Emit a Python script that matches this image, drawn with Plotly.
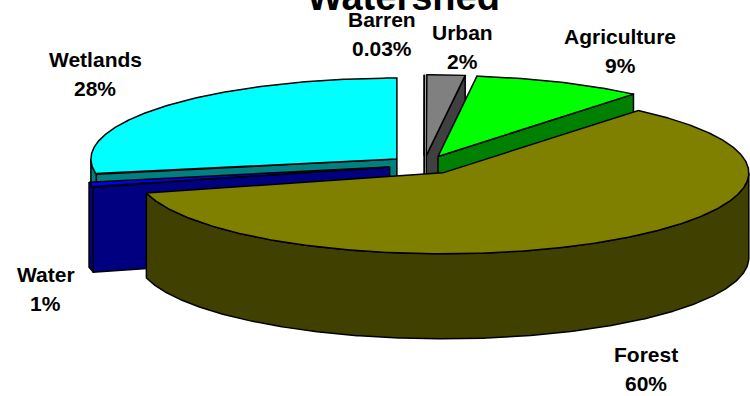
import numpy as np
import plotly.graph_objects as go

# ---------------- data ----------------
categories = ["Barren", "Urban", "Agriculture", "Forest", "Water", "Wetlands"]
values = [0.03, 2, 9, 60, 1, 28]
title_text = "Watershed"

# ---------------- style ----------------
top_colors = ["#C0C0C0", "#808080", "#00FF00", "#808000", "#0000FF", "#00FFFF"]
side_colors = ["#606060", "#404040", "#008000", "#404000", "#000080", "#008080"]
label_offsets = [(-42, -41), (16, -28), (60, -31), (39, 128), (-45, 104), (-66, -33)]

W, H = 750, 396
CX, CY = 424, 165          # pie centre (px)
RX, RY = 306, 81           # ellipse radii (px)
DEPTH = 85                 # pie thickness (px)
EXPLODE = 0.115            # explosion fraction
FONT = "Arial, Liberation Sans, sans-serif"

total = float(sum(values))
fracs = [v / total for v in values]
starts = np.cumsum([0] + fracs[:-1]) * 360.0
ends = np.cumsum(fracs) * 360.0


def rim(theta_deg, ox, oy, dz=0.0):
    t = np.radians(theta_deg)
    return CX + ox + RX * np.sin(t), CY + oy - RY * np.cos(t) + dz


def arc(t1, t2, ox, oy, dz=0.0):
    n = max(2, int(abs(t2 - t1) * 2) + 2)
    ts = np.linspace(t1, t2, n)
    xs, ys = rim(ts, ox, oy, dz)
    return list(xs), list(ys)


fig = go.Figure()


def poly(xs, ys, color):
    fig.add_trace(go.Scatter(
        x=xs + [xs[0]], y=ys + [ys[0]], mode="lines", fill="toself",
        fillcolor=color, line=dict(color="black", width=1.5),
        hoverinfo="skip", showlegend=False))


slices = []
for i in range(len(values)):
    t1, t2 = starts[i], ends[i]
    tm = np.radians((t1 + t2) / 2)
    ox = EXPLODE * RX * np.sin(tm)
    oy = -EXPLODE * RY * np.cos(tm)
    slices.append((-np.cos(tm), i, t1, t2, ox, oy))

# painter's order: back slices first
for _, i, t1, t2, ox, oy in sorted(slices):
    ax, ay = CX + ox, CY + oy
    # radial faces
    if np.sin(np.radians(t1)) < -1e-6:
        px, py = rim(t1, ox, oy)
        poly([ax, px, px, ax], [ay, py, py + DEPTH, ay + DEPTH], side_colors[i])
    if np.sin(np.radians(t2)) > 1e-6:
        px, py = rim(t2, ox, oy)
        poly([ax, px, px, ax], [ay, py, py + DEPTH, ay + DEPTH], side_colors[i])
    # outer wall (front half 90..270)
    a, b = max(t1, 90.0), min(t2, 270.0)
    if b > a:
        tx, ty = arc(a, b, ox, oy)
        bx, by = arc(a, b, ox, oy, DEPTH)
        poly(tx + bx[::-1], ty + by[::-1], side_colors[i])
    # top face
    tx, ty = arc(t1, t2, ox, oy)
    poly([ax] + tx, [ay] + ty, top_colors[i])

# labels
annotations = []
for i, name in enumerate(categories):
    t1, t2 = starts[i], ends[i]
    tm = (t1 + t2) / 2
    lx, ly = rim(tm, 0, 0)
    lx = CX + (lx - CX) * (1 + EXPLODE) + label_offsets[i][0]
    ly = CY + (ly - CY) * (1 + EXPLODE) + label_offsets[i][1]
    pct = fracs[i] * 100
    ptxt = f"{pct:.2f}%" if pct < 0.5 else f"{pct:.0f}%"
    annotations.append(dict(x=lx, y=ly - 14.5, xref="x", yref="y", text=name,
                            showarrow=False, xanchor="center", yanchor="middle",
                            font=dict(family=FONT, size=21, color="black", weight="bold")))
    annotations.append(dict(x=lx, y=ly + 14.5, xref="x", yref="y", text=ptxt,
                            showarrow=False, xanchor="center", yanchor="middle",
                            font=dict(family=FONT, size=21, color="black", weight="bold")))

annotations.append(dict(x=404 / W, y=1 + 3 / H, xref="paper", yref="paper", text=title_text,
                        showarrow=False, xanchor="center", yanchor="middle",
                        font=dict(family=FONT, size=38, color="black", weight="bold")))

fig.update_layout(
    width=W, height=H, margin=dict(l=0, r=0, t=0, b=0),
    paper_bgcolor="white", plot_bgcolor="white",
    xaxis=dict(range=[0, W], visible=False, fixedrange=True),
    yaxis=dict(range=[H, 0], visible=False, fixedrange=True),
    annotations=annotations, showlegend=False,
)

fig.write_html("out.html")
